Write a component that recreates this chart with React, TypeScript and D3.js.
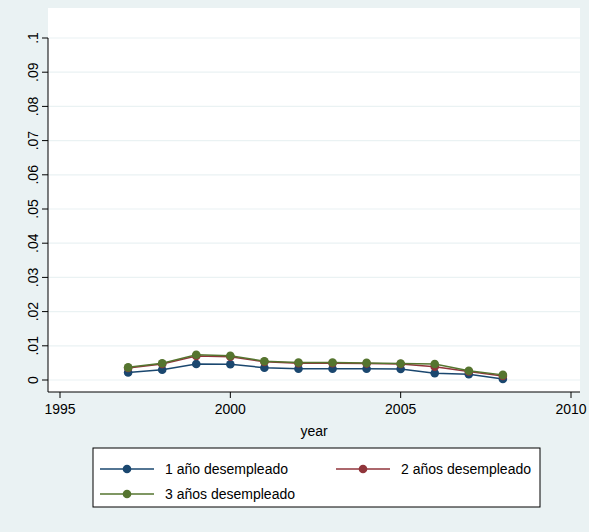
import * as d3 from 'd3';

const years = [1997, 1998, 1999, 2000, 2001, 2002, 2003, 2004, 2005, 2006, 2007, 2008];
const uno = [0.0022, 0.003, 0.0047, 0.0046, 0.0036, 0.0033, 0.0033, 0.0033, 0.0032, 0.002, 0.0017, 0.0003];
const dos = [0.0035, 0.0047, 0.007, 0.0068, 0.0053, 0.0049, 0.0049, 0.0048, 0.0047, 0.0039, 0.0025, 0.0012];
const tres = [0.0037, 0.0049, 0.0074, 0.0071, 0.0055, 0.0051, 0.0051, 0.005, 0.0048, 0.0047, 0.0027, 0.0015];
const yTicks = [0, 0.01, 0.02, 0.03, 0.04, 0.05, 0.06, 0.07, 0.08, 0.09, 0.1];
const yLabels = ['0', '.01', '.02', '.03', '.04', '.05', '.06', '.07', '.08', '.09', '.1'];
const xTicks = [1995, 2000, 2005, 2010];
const series = [
  { name: '1 año desempleado', values: uno, color: '#1a476f' },
  { name: '2 años desempleado', values: dos, color: '#90353b' },
  { name: '3 años desempleado', values: tres, color: '#55752f' },
];

export default function App() {
  const W = 589, H = 532;
  const x = d3.scaleLinear().domain([1995, 2010]).range([60, 571]);
  const y = d3.scaleLinear().domain([0, 0.1]).range([380, 38]);
  const line = (vals: number[]) =>
    d3.line<number>().x((_, i) => x(years[i])).y(d => y(d))(vals) || '';
  const font = 'Arial, Liberation Sans, sans-serif';
  return (
    <svg width={W} height={H} style={{ position: 'absolute', left: 0, top: 0 }} fontFamily={font}>
      <rect width={W} height={H} fill="#eaf2f3" />
      <rect x={48} y={8} width={532} height={384} fill="#fff" />
      {yTicks.map((t, i) => (
        <g key={i}>
          <line x1={48} x2={580} y1={y(t)} y2={y(t)} stroke="#eaf2f3" strokeWidth={1.2} />
          <line x1={42} x2={48} y1={y(t)} y2={y(t)} stroke="#000" />
          <text transform={`translate(38,${y(t)}) rotate(-90)`} textAnchor="middle" fontSize={14}>
            {yLabels[i]}
          </text>
        </g>
      ))}
      <line x1={48} x2={48} y1={y(0.1)} y2={392} stroke="#000" />
      <line x1={48} x2={580} y1={392} y2={392} stroke="#000" />
      {xTicks.map(t => (
        <g key={t}>
          <line x1={x(t)} x2={x(t)} y1={392} y2={398} stroke="#000" />
          <text x={x(t)} y={414} textAnchor="middle" fontSize={14}>{t}</text>
        </g>
      ))}
      <text x={314} y={436} textAnchor="middle" fontSize={14}>year</text>
      {series.map(s => (
        <g key={s.name}>
          <path d={line(s.values)} fill="none" stroke={s.color} strokeWidth={1.5} />
          {s.values.map((v, i) => (
            <circle key={i} cx={x(years[i])} cy={y(v)} r={4.3} fill={s.color} />
          ))}
        </g>
      ))}
      <rect x={93} y={448} width={447} height={59} fill="#fff" stroke="#000" />
      {series.map((s, i) => {
        const lx = i === 1 ? 336 : 100;
        const ly = i === 2 ? 494 : 469;
        return (
          <g key={s.name}>
            <line x1={lx} x2={lx + 54} y1={ly} y2={ly} stroke={s.color} strokeWidth={1.5} />
            <circle cx={lx + 27} cy={ly} r={4.3} fill={s.color} />
            <text x={lx + 65} y={ly + 5} fontSize={14}>{s.name}</text>
          </g>
        );
      })}
    </svg>
  );
}
